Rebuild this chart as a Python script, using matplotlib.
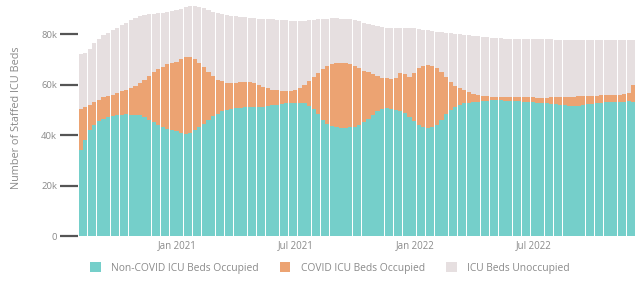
import datetime as dt

import matplotlib
matplotlib.use("Agg")
import matplotlib.dates as mdates
import matplotlib.pyplot as plt
import numpy as np
from matplotlib.patches import Patch

# weekly values, thousands of beds
start = dt.date(2020, 8, 6)

non_covid = [
  34, 38, 42, 44, 45.5, 46.5, 47, 47.5, 48, 48, 48.2, 48, 48, 47.8, 47, 46, 45, 44, 43, 42.5,
  42, 41.5, 41, 40.5, 41, 42, 43, 44.5, 46, 47.5, 48.5, 49.5, 50, 50.5, 50.7, 50.8, 51, 51, 51, 51,
  51.2, 51.5, 51.8, 52, 52.3, 52.5, 52.7, 52.8, 52.8, 52.5, 51.5, 50.5, 48.5, 46, 44.5, 43.5, 43, 42.8, 42.8, 43,
  43.3, 44, 45, 46.5, 48, 49.5, 50.5, 50.7, 50.5, 50, 49.5, 48.7, 47, 45.5, 44, 43, 42.8, 43.2, 44, 46,
  48.5, 50, 51.2, 52, 52.5, 52.8, 53, 53.2, 53.4, 53.5, 53.7, 53.8, 53.7, 53.6, 53.5, 53.4, 53.3, 53.2, 53, 53,
  52.8, 52.7, 52.5, 52.3, 52.2, 52, 51.8, 51.6, 51.6, 51.7, 51.9, 52.1, 52.3, 52.5, 52.7, 52.9, 53, 53.1, 53.2, 53.2,
  53.3, 53.0,
]

occupied = [
  50.5, 51, 52, 53, 54, 55, 55.5, 56, 56.8, 57.3, 58, 58.6, 59.5, 60.5, 62, 63.5, 65, 66, 67, 68,
  68.5, 69, 70, 71, 70.8, 70, 68.5, 67, 65, 63.5, 62, 61.5, 60.8, 60.5, 60.7, 61, 61.2, 61, 60.5, 59.8,
  59, 58.5, 58, 57.8, 57.6, 57.5, 57.6, 57.8, 58.5, 60, 61.5, 63, 64.5, 66, 67.2, 68, 68.5, 68.6, 68.4, 68,
  67.5, 66.5, 65.5, 64.8, 64, 63.2, 62.7, 62.5, 62.3, 62.5, 64.5, 64, 63, 64.5, 66.5, 67.5, 67.8, 67.5, 66.5, 65,
  63, 61, 59.5, 58.6, 57.8, 57, 56.3, 55.8, 55.5, 55.3, 55.1, 55, 55, 55, 54.9, 54.9, 55, 55, 54.9, 54.9,
  54.8, 54.8, 54.8, 54.9, 55, 55, 55.1, 55.1, 55.2, 55.3, 55.3, 55.4, 55.5, 55.6, 55.7, 55.8, 55.8, 55.9, 56, 56.2,
  56.8, 59.8,
]

staffed = [
  72, 72.5, 74, 76.5, 78, 79.5, 80.5, 81.5, 82.5, 83.5, 84.5, 85.5, 86.5, 87, 87.5, 87.8, 88, 88.3, 88.5, 88.7,
  89, 89.5, 90, 90.8, 91, 91, 90.7, 90.2, 89.5, 88.8, 88.2, 87.8, 87.5, 87.3, 87, 86.8, 86.6, 86.5, 86.3, 86.1,
  86, 85.9, 85.8, 85.7, 85.6, 85.5, 85.3, 85.2, 85.2, 85.3, 85.5, 85.7, 85.9, 86, 86.1, 86.2, 86.2, 86.1, 86, 85.8,
  85.5, 85, 84.5, 84, 83.5, 83.1, 82.8, 82.6, 82.5, 82.4, 82.4, 82.4, 82.4, 82.3, 82.1, 81.8, 81.5, 81.2, 81, 80.8,
  80.6, 80.4, 80.2, 80, 79.8, 79.6, 79.4, 79.2, 79, 78.8, 78.6, 78.4, 78.3, 78.2, 78.2, 78.1, 78.1, 78, 78, 78,
  78, 77.9, 77.9, 77.9, 77.8, 77.8, 77.8, 77.8, 77.8, 77.8, 77.8, 77.8, 77.8, 77.7, 77.7, 77.7, 77.7, 77.7, 77.7, 77.7,
  77.7, 77.8,
]

series_names = ["Non-COVID ICU Beds Occupied", "COVID ICU Beds Occupied", "ICU Beds Unoccupied"]
colors = ["#75cfca", "#eca372", "#e6dfe0"]
tick_dates = [dt.date(2021, 1, 1), dt.date(2021, 7, 1), dt.date(2022, 1, 1), dt.date(2022, 7, 1)]
tick_labels = ["Jan 2021", "Jul 2021", "Jan 2022", "Jul 2022"]
yticks = [0, 20000, 40000, 60000, 80000]
ylabels = ["0", "20k", "40k", "60k", "80k"]

plt.rcParams['font.family'] = ['Open Sans', 'DejaVu Sans']

nc = np.array(non_covid) * 1000
occ = np.array(occupied) * 1000
tot = np.array(staffed) * 1000
dates = [start + dt.timedelta(weeks=i) for i in range(len(nc))]
x = mdates.date2num(dates)

fig = plt.figure(figsize=(6.36, 2.85), dpi=100)
ax = fig.add_axes([78 / 636, 49 / 285, 1 - 78 / 636, 236 / 285])

w = 6.4
ax.bar(x, nc, width=w, color=colors[0], linewidth=0)
ax.bar(x, occ - nc, bottom=nc, width=w, color=colors[1], linewidth=0)
ax.bar(x, tot - occ, bottom=occ, width=w, color=colors[2], linewidth=0)

ax.set_xlim(mdates.date2num(dt.date(2020, 8, 2)), mdates.date2num(dt.date(2022, 12, 5)))
ax.set_ylim(0, 93500)

for s in ax.spines.values():
  s.set_visible(False)

ax.set_yticks(yticks)
ax.set_yticklabels(ylabels)
ax.tick_params(axis='y', length=13, width=1.6, color='#555555', labelsize=6.8, labelcolor='#8a8a8a', pad=2)
ax.set_xticks(mdates.date2num(tick_dates))
ax.set_xticklabels(tick_labels)
ax.tick_params(axis='x', length=0, labelsize=7, labelcolor='#8a8a8a', pad=3)

ax.set_ylabel("Number of Staffed ICU Beds", fontsize=7.8, color='#8a8a8a', labelpad=14)

handles = [Patch(facecolor=c, edgecolor='none') for c in colors]
fig.legend(handles, series_names, loc='center', bbox_to_anchor=(330 / 636, 1 - 268 / 285),
           ncol=3, frameon=False, fontsize=7.4, labelcolor='#8a8a8a',
           handlelength=1.0, handleheight=1.0, columnspacing=2.1, handletextpad=1.0)

fig.savefig("out.png", dpi=100)
